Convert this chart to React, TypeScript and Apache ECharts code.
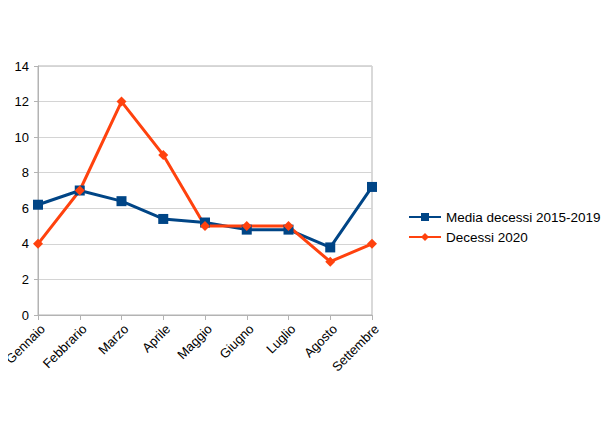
import React, { useEffect, useRef } from "react";
import * as echarts from "echarts";

const categories = ["Gennaio", "Febbrario", "Marzo", "Aprile", "Maggio", "Giugno", "Luglio", "Agosto", "Settembre"];
const media = [6.2, 7.0, 6.4, 5.4, 5.2, 4.8, 4.8, 3.8, 7.2];
const decessi2020 = [4, 7, 12, 9, 5, 5, 5, 3, 4];
const seriesNames = ["Media decessi 2015-2019", "Decessi 2020"];

export default function App() {
  const ref = useRef<HTMLDivElement>(null);
  useEffect(() => {
    if (!ref.current) return;
    const chart = echarts.init(ref.current, null, { renderer: "svg" });
    chart.setOption({
      animation: false,
      backgroundColor: "#ffffff",
      textStyle: { fontFamily: "Liberation Sans" },
      grid: {
        left: 38,
        right: 238,
        top: 66,
        bottom: 116,
        show: true,
        borderColor: "#b3b3b3",
        borderWidth: 1,
        outerBoundsMode: "none",
        containLabel: false,
      },
      legend: {
        orient: "vertical",
        left: 403,
        top: 205,
        itemWidth: 32,
        itemHeight: 10,
        itemGap: 6,
        textStyle: { fontSize: 13.5, color: "#000", fontFamily: "Liberation Sans" },
        data: seriesNames,
      },
      xAxis: {
        type: "category",
        data: categories,
        boundaryGap: false,
        axisLine: { lineStyle: { color: "#b3b3b3" } },
        axisTick: { show: true, length: 5, lineStyle: { color: "#b3b3b3" } },
        axisLabel: { rotate: 45, fontSize: 13, color: "#000", margin: 7, interval: 0, verticalAlign: "top" },
        splitLine: { show: false },
      },
      yAxis: {
        type: "value",
        min: 0,
        max: 14,
        interval: 2,
        axisLine: { show: true, lineStyle: { color: "#b3b3b3" } },
        axisTick: { show: true, length: 4, lineStyle: { color: "#b3b3b3" } },
        axisLabel: { fontSize: 13, color: "#000", margin: 9 },
        splitLine: { show: true, lineStyle: { color: "#d4d4d4" } },
      },
      series: [
        {
          name: seriesNames[0],
          type: "line",
          data: media,
          color: "#004586",
          lineStyle: { width: 3, color: "#004586" },
          symbol: "rect",
          symbolSize: 10,
          itemStyle: { color: "#004586" },
        },
        {
          name: seriesNames[1],
          type: "line",
          data: decessi2020,
          color: "#ff420e",
          lineStyle: { width: 3, color: "#ff420e" },
          symbol: "diamond",
          symbolSize: 10,
          itemStyle: { color: "#ff420e" },
        },
      ],
    });
    return () => chart.dispose();
  }, []);
  return <div ref={ref} style={{ width: 610, height: 431, margin: -8 }} />;
}
